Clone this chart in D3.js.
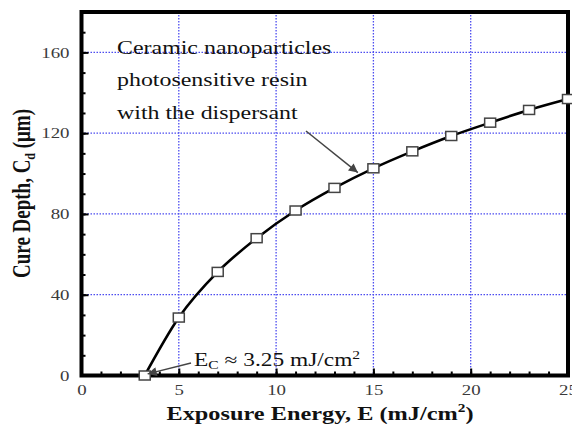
<!DOCTYPE html>
<html>
<head>
<meta charset="utf-8">
<script src="https://d3js.org/d3.v7.min.js"></script>
<style>
    body { margin: 0; background: #fff; }
    .grid line { stroke: #4c4cf0; stroke-width: 1.3px; stroke-dasharray: 1.5,1.5; }
    .axis text { font-family: "Liberation Serif", "Times New Roman", serif; font-size: 14.5px; fill: #3a3a3a; }
    .axis line { stroke: #000; stroke-width: 2px; }
    .axis path { display: none; }
    .lbl { font-family: "Liberation Serif", "Times New Roman", serif; fill: #111; }
</style>
</head>
<body>
<svg id="chart" width="572" height="425"></svg>
<script>
    // values
    const energy = [3.25, 5, 7, 9, 11, 13, 15, 17, 19, 21, 23, 25];
    const depth  = [0, 28.7, 51.3, 68, 81.7, 92.9, 102.6, 111, 118.6, 125.2, 131.5, 136.9];
    const xMajor = [0, 5, 10, 15, 20, 25];
    const yMajor = [0, 40, 80, 120, 160];
    const xMinor = d3.range(0, 26, 1);
    const yMinor = d3.range(0, 181, 10);
    const noteLines = ["Ceramic nanoparticles", "photosensitive resin", "with the dispersant"];

    const svg = d3.select("#chart");
    const sx = 1.3; // the source picture is stretched sideways

    const x = d3.scaleLinear().domain([0, 25]).range([81.5, 568]);
    const y = d3.scaleLinear().domain([0, 180]).range([375.5, 12]);

    // grid
    const grid = svg.append("g").attr("class", "grid");
    grid.selectAll("line.v").data(xMajor.filter(d => d > 0 && d < 25)).join("line")
        .attr("x1", d => x(d)).attr("x2", d => x(d))
        .attr("y1", y(180)).attr("y2", y(0));
    grid.selectAll("line.h").data(yMajor.filter(d => d > 0)).join("line")
        .attr("x1", x(0)).attr("x2", x(25))
        .attr("y1", d => y(d)).attr("y2", d => y(d));

    // minor ticks
    svg.append("g").attr("class", "axis").attr("transform", `translate(0,${y(0)})`)
        .call(d3.axisBottom(x).tickValues(xMinor).tickSize(-4).tickFormat(""));
    svg.append("g").attr("class", "axis").attr("transform", `translate(${x(0)},0)`)
        .call(d3.axisLeft(y).tickValues(yMinor).tickSize(-4).tickFormat(""));

    // major ticks + labels
    const xa = svg.append("g").attr("class", "axis").attr("transform", `translate(0,${y(0)})`)
        .call(d3.axisBottom(x).tickValues(xMajor).tickSize(-7).tickFormat(d3.format("d")));
    xa.selectAll("text").attr("y", 20).attr("dy", 0).attr("transform", `scale(${sx},1)`);

    const ya = svg.append("g").attr("class", "axis").attr("transform", `translate(${x(0)},0)`)
        .call(d3.axisLeft(y).tickValues(yMajor).tickSize(-7).tickFormat(d3.format("d")));
    ya.selectAll("text").attr("x", -12 / sx).attr("dy", "0.33em").attr("transform", `scale(${sx},1)`);

    // frame
    svg.append("rect")
        .attr("x", x(0)).attr("y", y(180))
        .attr("width", x(25) - x(0)).attr("height", y(0) - y(180))
        .attr("fill", "none").attr("stroke", "#000").attr("stroke-width", 4);

    // curve
    const pts = energy.map((e, i) => [e, depth[i]]);
    svg.append("path").datum(pts)
        .attr("fill", "none").attr("stroke", "#000").attr("stroke-width", 2.6)
        .attr("d", d3.line().x(d => x(d[0])).y(d => y(d[1])).curve(d3.curveMonotoneX));

    svg.selectAll("rect.pt").data(pts).join("rect")
        .attr("class", "pt")
        .attr("x", d => x(d[0]) - 5.5).attr("y", d => y(d[1]) - 4.5)
        .attr("width", 11).attr("height", 9)
        .attr("fill", "#fff").attr("stroke", "#444").attr("stroke-width", 1.5);

    // arrows
    svg.append("defs").append("marker")
        .attr("id", "head").attr("viewBox", "0 0 10 10")
        .attr("refX", 10).attr("refY", 5)
        .attr("markerWidth", 11).attr("markerHeight", 9)
        .attr("markerUnits", "userSpaceOnUse").attr("orient", "auto")
        .append("path").attr("d", "M0,0L10,5L0,10z").attr("fill", "#444");

    const arrow = (a, b) => svg.append("line")
        .attr("x1", a[0]).attr("y1", a[1]).attr("x2", b[0]).attr("y2", b[1])
        .attr("stroke", "#444").attr("stroke-width", 1.5).attr("marker-end", "url(#head)");
    arrow([306, 131], [x(14.2), y(100.5)]);
    arrow([191, 363], [x(3.4), y(0.8)]);

    // note text
    svg.selectAll("text.note").data(noteLines).join("text")
        .attr("class", "lbl note")
        .attr("transform", (d, i) => `translate(117,${54 + i * 32.3}) scale(${sx},1)`)
        .attr("font-size", 18.4)
        .text(d => d);

    const ec = svg.append("text").attr("class", "lbl")
        .attr("transform", `translate(194,366) scale(${sx},1)`)
        .attr("font-size", 18);
    ec.append("tspan").text("E");
    ec.append("tspan").attr("font-size", 12).attr("dy", 3).text("C");
    ec.append("tspan").attr("dy", -3).text(" \u2248 3.25 mJ/cm");
    ec.append("tspan").attr("font-size", 12).attr("dy", -7).text("2");

    // axis titles
    const xt = svg.append("text").attr("class", "lbl")
        .attr("transform", `translate(320,420) scale(1.28,1)`)
        .attr("text-anchor", "middle").attr("font-size", 19).attr("font-weight", "bold");
    xt.append("tspan").text("Exposure Energy, E (mJ/cm");
    xt.append("tspan").attr("font-size", 12).attr("dy", -8).text("2");
    xt.append("tspan").attr("dy", 8).text(")");

    const yt = svg.append("text").attr("class", "lbl")
        .attr("transform", `translate(30,193.5) scale(1.27,1) rotate(-90)`)
        .attr("text-anchor", "middle").attr("font-size", 19).attr("font-weight", "bold");
    yt.append("tspan").text("Cure Depth, C");
    yt.append("tspan").attr("font-size", 12).attr("dy", 4).text("d");
    yt.append("tspan").attr("dy", -4).text(" (\u03bcm)");
</script>
</body>
</html>
